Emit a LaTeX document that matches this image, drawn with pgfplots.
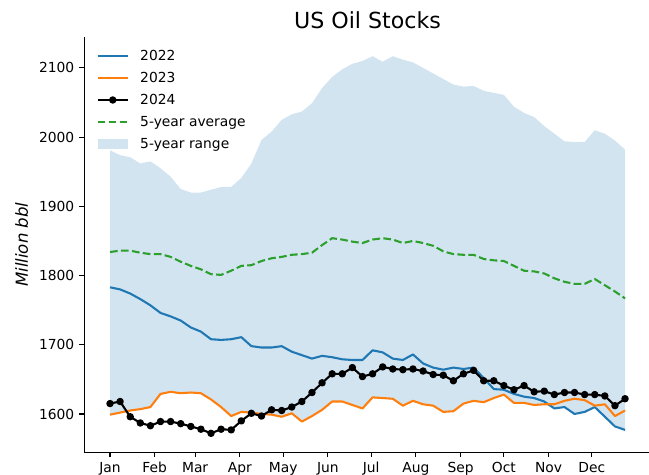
\documentclass[border=0pt]{standalone}
\usepackage{fontspec}
\setmainfont{DejaVu Sans}
\usepackage{pgfplots}
\usepackage{pgfplotstable}
\pgfplotsset{compat=1.18}
\usepgfplotslibrary{fillbetween}

\definecolor{tabblue}{HTML}{1F77B4}
\definecolor{taborange}{HTML}{FF7F0E}
\definecolor{tabgreen}{HTML}{2CA02C}

% weekly stocks, million bbl; day = days since 1 Jan
\pgfplotstableread{
day y22 y23 y24 avg lo hi
0 1783 1599 1615 1834 1599 1981
7 1780 1602 1618 1836 1602 1974
14 1774 1605 1596 1836 1605 1971
21 1766 1607 1587 1833 1607 1962
28 1757 1610 1583 1831 1610 1965
35 1746 1629 1589 1831 1629 1955
42 1741 1632 1589 1827 1632 1943
49 1735 1630 1586 1820 1630 1925
56 1725 1631 1582 1814 1631 1920
63 1719 1630 1578 1809 1630 1920
70 1708 1621 1572 1802 1621 1924
77 1707 1610 1578 1801 1610 1928
84 1708 1597 1577 1807 1597 1928
91 1711 1603 1590 1814 1603 1941
98 1698 1602 1601 1815 1602 1962
105 1696 1600 1597 1821 1600 1996
112 1696 1599 1606 1825 1599 2008
119 1698 1596 1605 1827 1596 2025
126 1690 1601 1610 1830 1601 2033
133 1685 1589 1618 1831 1589 2037
140 1680 1597 1631 1833 1597 2049
147 1684 1606 1645 1844 1606 2071
154 1682 1618 1658 1854 1618 2087
161 1679 1618 1658 1852 1618 2098
168 1678 1613 1667 1849 1613 2106
175 1678 1608 1654 1847 1608 2110
182 1692 1624 1658 1852 1624 2117
189 1689 1623 1668 1854 1623 2109
196 1680 1622 1665 1852 1622 2117
203 1678 1612 1664 1847 1612 2112
210 1686 1619 1665 1850 1619 2108
217 1673 1614 1662 1847 1614 2100
224 1667 1612 1657 1843 1612 2092
231 1664 1603 1656 1835 1603 2084
238 1667 1604 1648 1831 1604 2076
245 1665 1615 1658 1830 1615 2073
252 1667 1619 1663 1830 1619 2074
259 1652 1617 1648 1824 1617 2067
266 1636 1623 1648 1822 1623 2064
273 1635 1628 1641 1821 1628 2061
280 1629 1616 1635 1814 1616 2044
287 1625 1616 1641 1807 1616 2035
294 1623 1613 1632 1806 1613 2029
301 1618 1614 1633 1803 1614 2016
308 1608 1614 1628 1796 1608 2005
315 1610 1619 1631 1791 1610 1994
322 1600 1622 1631 1788 1600 1993
329 1603 1620 1628 1788 1603 1993
336 1610 1612 1628 1795 1610 2010
343 1596 1614 1626 1786 1596 2005
350 1582 1597 1612 1777 1582 1995
357 1577 1605 1622 1767 1577 1982
}\stocks

\begin{document}
\begin{tikzpicture}
\begin{axis}[
  at={(0,0)}, anchor=south west,
  scale only axis,
  width=407.9bp, height=298.9bp,
  xmin=-17.85, xmax=374.85,
  ymin=1544.7, ymax=2144.6,
  axis x line*=bottom, axis y line*=left,
  axis line style={-, line width=0.8bp, black},
  xtick={0,31,59,90,120,151,181,212,243,273,304,334},
  xticklabels={Jan,Feb,Mar,Apr,May,Jun,Jul,Aug,Sep,Oct,Nov,Dec},
  ytick={1600,1700,1800,1900,2000,2100},
  tick align=outside,
  major tick length=3.5bp,
  tick style={line width=0.8bp, black},
  /pgf/number format/assume math mode=true,
  /pgf/number format/1000 sep={},
  ticklabel style={font=\fontsize{10}{12}\selectfont, inner sep=0pt},
  xticklabel style={anchor=north, yshift=-3.5bp},
  yticklabel style={anchor=east, xshift=-3.5bp},
  title={US Oil Stocks},
  title style={font=\fontsize{16}{19}\selectfont, at={(0.5,1)}, anchor=base, yshift=0bp, inner sep=0pt},
  ylabel={Million bbl},
  ylabel style={font=\fontsize{12}{14}\itshape, at={(axis description cs:-0.1103,0.5)}, anchor=center, inner sep=0pt},
  legend image code/.code={\draw[mark repeat=2, mark phase=2, #1] plot coordinates {(0bp,0bp) (11bp,0bp) (22bp,0bp)};},
  legend style={at={(0,1)}, anchor=north west, xshift=5.6bp, yshift=-6.5bp,
    draw=none, fill=none, font=\fontsize{10}{12}\selectfont,
    row sep=5.8bp, nodes={inner sep=0pt, text height=8bp, text depth=2bp},
    /tikz/every odd column/.append style={column sep=8bp}},
  legend cell align=left,
]
\addplot[draw=none, name path=hi, forget plot] table[x=day, y=hi] {\stocks};
\addplot[draw=none, name path=lo, forget plot] table[x=day, y=lo] {\stocks};
\addplot[fill=tabblue, fill opacity=0.2, draw=none, forget plot] fill between[of=hi and lo];

\addplot[tabblue, line width=1.5bp, line join=round] table[x=day, y=y22] {\stocks};
\addlegendentry{2022}
\addplot[taborange, line width=1.5bp, line join=round] table[x=day, y=y23] {\stocks};
\addlegendentry{2023}
\addplot[black, line width=1.5bp, line join=round, mark=*, mark size=1.9bp] table[x=day, y=y24] {\stocks};
\addlegendentry{2024}
\addplot[tabgreen, line width=1.5bp, dash pattern=on 5.55bp off 2.4bp] table[x=day, y=avg] {\stocks};
\addlegendentry{5-year average}
\addlegendimage{legend image code/.code={\path[draw=none, fill=tabblue, fill opacity=0.2] (0bp,-3.5bp) rectangle (22bp,3.5bp);}}
\addlegendentry{5-year range}
\end{axis}
\pgfresetboundingbox
\path[use as bounding box] (-60.66bp,-16.3bp) rectangle (406.6bp,325.6bp);
\end{tikzpicture}
\end{document}
